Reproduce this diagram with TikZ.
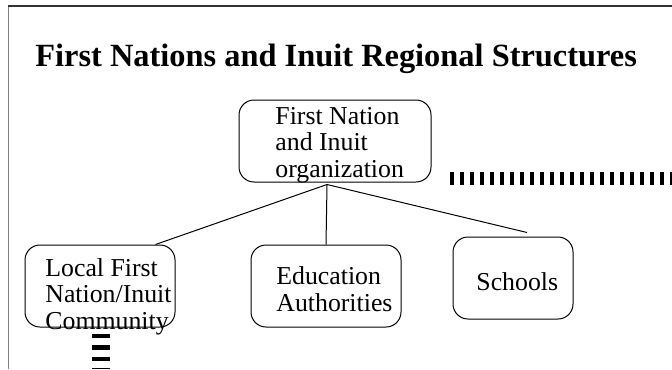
\documentclass[tikz,border=0pt]{standalone}
\usepackage{fontspec}
\setmainfont{Liberation Serif}
\begin{document}
\begin{tikzpicture}[x=0.5pt,y=-0.5pt,
	box/.style={draw,rounded corners=7.5pt,line width=0.5pt},
	txt/.style={align=left,inner sep=0pt,font=\fontsize{12.9}{13.25}\selectfont},
	hbar/.style={line width=6.5pt,dash pattern=on 2pt off 3pt},
	vbar/.style={line width=9pt,dash pattern=on 2.25pt off 3.5pt}]
	\useasboundingbox (0,0) rectangle (672,369);
	% frame
	\draw[gray,line width=0.75pt] (8.5,369) -- (8.5,6);
	\draw[black!80,line width=0.75pt] (8,6) -- (672,6);
	\node[anchor=base west,inner sep=0pt,font=\fontsize{16.2}{19}\selectfont\bfseries] (title) at (35,67) {First Nations and Inuit Regional Structures};
	% boxes
	\node[box,minimum width=96pt,minimum height=41pt] (org) at (335,141) {};
	\node[txt,anchor=north west] (orgtxt) at (275,107) {First Nation\\and Inuit\\organization};
	\node[box,minimum width=75pt,minimum height=41pt] (local) at (100,286) {};
	\node[txt,anchor=north west] (localtxt) at (45,258) {Local First\\Nation/Inuit\\Community};
	\node[box,minimum width=75pt,minimum height=41pt] (edu) at (326,286) {};
	\node[txt,anchor=north west] (edutxt) at (276,266.5) {Education\\Authorities};
	\node[box,minimum width=60pt,minimum height=41pt] (schools) at (513,278) {};
	\node[txt,anchor=base west] (schoolstxt) at (476,290) {Schools};
	% connectors
	\coordinate (hub) at ([shift={(-8,2)}]org.south);
	\draw[line width=0.5pt] (hub) -- ([xshift=-10]local.north east);
	\draw[line width=0.5pt] (hub) -- (edu.north);
	\draw[line width=0.5pt] (hub) -- ([shift={(14,-4)}]schools.north);
	% bars
	\coordinate (hbarend) at (672,178.5);
	\coordinate (vbarend) at (101,369);
	\draw[hbar] (450,178.5) -- (hbarend);
	\draw[vbar] ([shift={(1,6)}]local.south) -- (vbarend);
\end{tikzpicture}
\end{document}
